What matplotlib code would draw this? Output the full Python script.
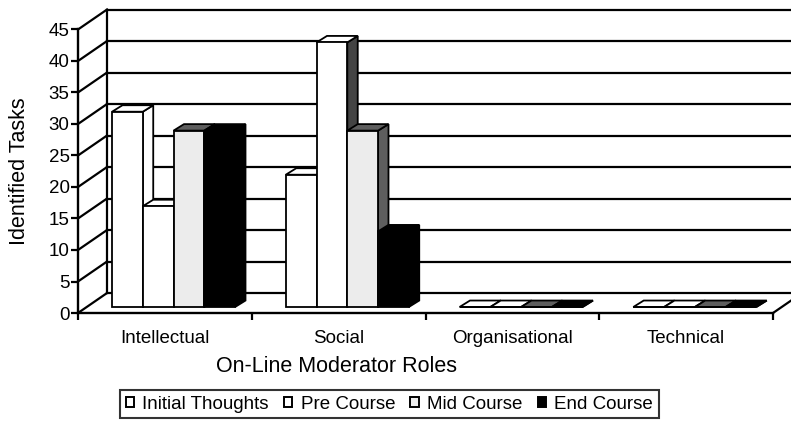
import matplotlib
matplotlib.use('Agg')
import matplotlib.pyplot as plt
from matplotlib.patches import Polygon, Patch

plt.rcParams['font.family'] = ['Liberation Sans', 'DejaVu Sans']

# Data
roles = ['Intellectual', 'Social', 'Organisational', 'Technical']
series = ['Initial Thoughts', 'Pre Course', 'Mid Course', 'End Course']
initial_thoughts = [31, 21, 0, 0]
pre_course = [16, 42, 0, 0]
mid_course = [28, 28, 0, 0]
end_course = [28, 12, 0, 0]
y_ticks = list(range(0, 46, 5))

values = [initial_thoughts, pre_course, mid_course, end_course]
front_col = ['white', 'white', '#ececec', 'black']
top_col = ['white', 'white', '#5e5e5e', 'black']
side_col = ['white', '#444444', '#5e5e5e', 'black']

fig = plt.figure(figsize=(7.91, 4.21), dpi=100)
ax = fig.add_axes([78 / 791, 108 / 421, 695 / 791, 283.5 / 421])
ax.set_xlim(0, 4)
ax.set_ylim(0, 45)
ax.patch.set_visible(False)

# fake 3D offsets (data units)
wx, wy = 0.167, 3.17   # back wall
fx, fy = 0.05, 0.95    # front face of bars
bx, by = 0.06, 1.03    # bar depth
gap, w = 0.146, 0.177

lw = 1.6
# back wall gridlines + side wall diagonals
for v in y_ticks:
    ax.plot([wx, 4 + wx], [v + wy, v + wy], color='black', lw=lw, clip_on=False, zorder=1)
    ax.plot([0, wx], [v, v + wy], color='black', lw=lw, clip_on=False, zorder=1)
ax.plot([wx, wx], [wy, 45 + wy], color='black', lw=lw, clip_on=False, zorder=1)
ax.plot([4, 4 + wx], [0, wy], color='black', lw=lw, clip_on=False, zorder=1)

# bars, drawn left to right so later ones hide earlier sides
for j, vals in enumerate(values):
    xs = [i + fx + gap + j * w for i in range(len(roles))]
    bars = ax.bar(xs, vals, w, bottom=fy, align='edge', color=front_col[j],
                  edgecolor='black', linewidth=1.3, clip_on=False)
    for i, (x0, h) in enumerate(zip(xs, vals)):
        base = 2 + (i * 4 + j) * 0.01
        bars[i].set_zorder(base + 0.002)
        top = h + fy
        side = Polygon([(x0 + w, fy), (x0 + w + bx, fy + by),
                        (x0 + w + bx, top + by), (x0 + w, top)],
                       closed=True, facecolor=side_col[j], edgecolor='black',
                       lw=1.3, zorder=base, clip_on=False)
        cap = Polygon([(x0, top), (x0 + bx, top + by),
                       (x0 + w + bx, top + by), (x0 + w, top)],
                      closed=True, facecolor=top_col[j], edgecolor='black',
                      lw=1.3, zorder=base + 0.001, clip_on=False)
        ax.add_patch(side)
        ax.add_patch(cap)

# axes
for s in ['top', 'right']:
    ax.spines[s].set_visible(False)
for s in ['left', 'bottom']:
    ax.spines[s].set_linewidth(1.7)
    ax.spines[s].set_zorder(5)

ax.set_yticks(y_ticks)
ax.tick_params(axis='y', length=5, width=1.6, pad=1, labelsize=13.5)
ax.set_xticks([0, 1, 2, 3, 4])
ax.set_xticklabels([])
ax.tick_params(axis='x', which='major', length=5, width=1.6)
ax.set_xticks([0.5, 1.5, 2.5, 3.5], roles, minor=True)
ax.tick_params(axis='x', which='minor', length=0, pad=12.5, labelsize=13.5)

fig.text(336 / 791, 1 - 367 / 421, 'On-Line Moderator Roles',
         ha='center', va='center', fontsize=15.5)
fig.text(20 / 791, 1 - 171 / 421, 'Identified Tasks', rotation=90,
         ha='center', va='center', fontsize=15.5)

handles = [Patch(facecolor=front_col[j], edgecolor='black', lw=1.4) for j in range(4)]
leg = fig.legend(handles, series, loc='upper left',
                 bbox_to_anchor=(120 / 791, 1 - 390 / 421), ncol=4, fontsize=13.5,
                 frameon=True, fancybox=False, edgecolor='black',
                 handlelength=0.45, handleheight=0.45, handletextpad=0.45,
                 columnspacing=0.8, borderpad=0.3, borderaxespad=0)
leg.get_frame().set_linewidth(1.5)

fig.savefig('out.png', dpi=100)
